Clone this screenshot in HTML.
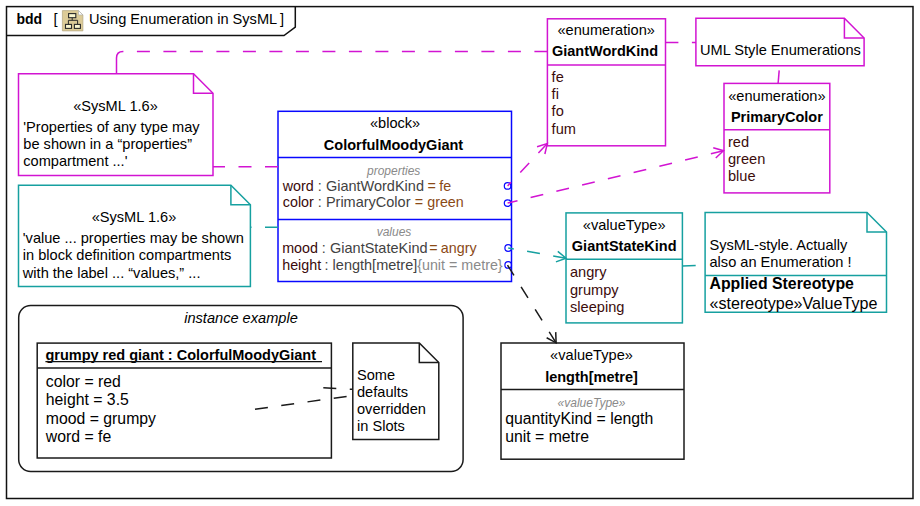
<!DOCTYPE html>
<html><head><meta charset="utf-8"><style>
html,body{margin:0;padding:0;background:#fff;}
svg{display:block;}
text{font-family:"Liberation Sans",sans-serif;}
</style></head><body>
<svg width="920" height="506" viewBox="0 0 920 506">
<rect width="920" height="506" fill="#fff"/>
<rect x="6.5" y="6.6" width="906.5" height="491.9" fill="none" stroke="#111" stroke-width="1.5"/>
<path d="M6.5,35.6 H284 L295.3,27.2 V6.6" fill="none" stroke="#111" stroke-width="1.5"/>
<text x="16.5" y="23.5" font-size="14" font-weight="bold" font-style="normal" fill="#000" text-anchor="start" >bdd</text>
<text x="53.6" y="23.5" font-size="14.6" font-weight="normal" font-style="normal" fill="#000" text-anchor="start" >[</text>
<path d="M62.4,10.6 H78.5 L82.9,14.9 V30.9 H62.4 Z" fill="#dccb98" stroke="#b3a682" stroke-width="0.7"/><path d="M78.5,10.6 L82.9,14.9 H78.5 Z" fill="#fff" stroke="#a8a8a8" stroke-width="0.6"/><rect x="68.6" y="13.6" width="7.2" height="4.1" fill="#fbf7d0" stroke="#2a2a2a" stroke-width="1.1"/><path d="M72.2,17.7 V20.3 M68.4,20.3 H77.6 M68.4,20.3 V24.4 M77.6,20.3 V24.4" fill="none" stroke="#2a2a2a" stroke-width="1"/><rect x="65.5" y="24.4" width="6" height="4" fill="#fbf7d0" stroke="#2a2a2a" stroke-width="1.1"/><rect x="74.4" y="24.4" width="6" height="4" fill="#fbf7d0" stroke="#2a2a2a" stroke-width="1.1"/>
<text x="89.0" y="23.5" font-size="14.6" font-weight="normal" font-style="normal" fill="#000" text-anchor="start" >Using Enumeration in SysML</text>
<text x="280.0" y="23.5" font-size="14.6" font-weight="normal" font-style="normal" fill="#000" text-anchor="start" >]</text>
<path d="M18.5,73.8 H193.5 L213,93.3 V175.5 H18.5 Z" fill="#fff" stroke="#d214d2" stroke-width="1.5"/>
<path d="M193.5,73.8 V93.3 H213" fill="none" stroke="#d214d2" stroke-width="1.5"/>
<text x="115.5" y="110.9" font-size="14.6" font-weight="normal" font-style="normal" fill="#000" text-anchor="middle" >«SysML 1.6»</text>
<text x="23.3" y="131.5" font-size="14.6" font-weight="normal" font-style="normal" fill="#000" text-anchor="start" >'Properties of any type may</text>
<text x="23.3" y="149.1" font-size="14.6" font-weight="normal" font-style="normal" fill="#000" text-anchor="start" >be shown in a “properties”</text>
<text x="23.3" y="165.9" font-size="14.6" font-weight="normal" font-style="normal" fill="#000" text-anchor="start" >compartment ...'</text>
<path d="M18.5,185.2 H230.9 L250.4,204.7 V286.6 H18.5 Z" fill="#fff" stroke="#16a0a0" stroke-width="1.5"/>
<path d="M230.9,185.2 V204.7 H250.4" fill="none" stroke="#16a0a0" stroke-width="1.5"/>
<text x="134" y="221.7" font-size="14.6" font-weight="normal" font-style="normal" fill="#000" text-anchor="middle" >«SysML 1.6»</text>
<text x="22.8" y="243" font-size="14.6" font-weight="normal" font-style="normal" fill="#000" text-anchor="start" >'value ... properties may be shown</text>
<text x="22.8" y="260.4" font-size="14.6" font-weight="normal" font-style="normal" fill="#000" text-anchor="start" >in block definition compartments</text>
<text x="22.8" y="277.7" font-size="14.6" font-weight="normal" font-style="normal" fill="#000" text-anchor="start" >with the label ... “values,” ...</text>
<rect x="278" y="111.3" width="233.5" height="170.2" rx="0" fill="#fff" stroke="#0808ff" stroke-width="1.5"/>
<line x1="278" y1="157.6" x2="511.5" y2="157.6" stroke="#0808ff" stroke-width="1.5"/>
<line x1="278" y1="219.6" x2="511.5" y2="219.6" stroke="#0808ff" stroke-width="1.5"/>
<text x="395.1" y="128" font-size="14.6" font-weight="normal" font-style="normal" fill="#000" text-anchor="middle" >«block»</text>
<text x="393.5" y="149.5" font-size="14.5" font-weight="bold" font-style="normal" fill="#000" text-anchor="middle" >ColorfulMoodyGiant</text>
<text x="393.7" y="174.6" font-size="12" font-weight="normal" font-style="italic" fill="#8a8a8a" text-anchor="middle" >properties</text>
<text x="282.8" y="190.8" font-size="14.3" font-weight="normal" font-style="normal" fill="#3a0a0a" text-anchor="start" >word</text>
<text x="317.7" y="190.8" font-size="14.3" font-weight="normal" font-style="normal" fill="#424242" text-anchor="start" >:</text>
<text x="325.9" y="190.8" font-size="14.5" font-weight="normal" font-style="normal" fill="#424242" text-anchor="start" >GiantWordKind</text>
<text x="427.6" y="190.8" font-size="14.3" font-weight="normal" font-style="normal" fill="#8b4a16" text-anchor="start" >=</text>
<text x="439.3" y="190.8" font-size="14.3" font-weight="normal" font-style="normal" fill="#8b4a16" text-anchor="start" >fe</text>
<text x="282.8" y="207.4" font-size="14.3" font-weight="normal" font-style="normal" fill="#3a0a0a" text-anchor="start" >color</text>
<text x="317.7" y="207.4" font-size="14.3" font-weight="normal" font-style="normal" fill="#424242" text-anchor="start" >:</text>
<text x="325.9" y="207.4" font-size="14.5" font-weight="normal" font-style="normal" fill="#424242" text-anchor="start" >PrimaryColor</text>
<text x="414.8" y="207.4" font-size="14.3" font-weight="normal" font-style="normal" fill="#8b4a16" text-anchor="start" >=</text>
<text x="427.2" y="207.4" font-size="14.3" font-weight="normal" font-style="normal" fill="#8b4a16" text-anchor="start" >green</text>
<text x="394" y="235.8" font-size="12" font-weight="normal" font-style="italic" fill="#8a8a8a" text-anchor="middle" >values</text>
<text x="282.2" y="253" font-size="14.3" font-weight="normal" font-style="normal" fill="#3a0a0a" text-anchor="start" >mood</text>
<text x="321.7" y="253" font-size="14.3" font-weight="normal" font-style="normal" fill="#424242" text-anchor="start" >:</text>
<text x="330" y="253" font-size="14.5" font-weight="normal" font-style="normal" fill="#424242" text-anchor="start" >GiantStateKind</text>
<text x="429.2" y="253" font-size="14.3" font-weight="normal" font-style="normal" fill="#8b4a16" text-anchor="start" >=</text>
<text x="440.8" y="253" font-size="14.3" font-weight="normal" font-style="normal" fill="#8b4a16" text-anchor="start" >angry</text>
<text x="282.2" y="269.9" font-size="14.3" font-weight="normal" font-style="normal" fill="#3a0a0a" text-anchor="start" >height</text>
<text x="324.6" y="269.9" font-size="14.3" font-weight="normal" font-style="normal" fill="#424242" text-anchor="start" >:</text>
<text x="332.6" y="269.9" font-size="14.5" font-weight="normal" font-style="normal" fill="#424242" text-anchor="start" >length[metre]</text>
<text x="417.2" y="269.9" font-size="14.3" font-weight="normal" font-style="normal" fill="#8a8a8a" text-anchor="start" >{unit = metre}</text>
<circle cx="507.6" cy="185.9" r="3.3" fill="none" stroke="#0808ff" stroke-width="1.2"/>
<circle cx="507.6" cy="203.1" r="3.3" fill="none" stroke="#0808ff" stroke-width="1.2"/>
<circle cx="508.2" cy="248" r="3.3" fill="none" stroke="#0808ff" stroke-width="1.2"/>
<circle cx="508.2" cy="264.9" r="3.3" fill="none" stroke="#0808ff" stroke-width="1.2"/>
<rect x="547.4" y="18.8" width="118.10000000000002" height="127.00000000000001" rx="0" fill="#fff" stroke="#d214d2" stroke-width="1.5"/>
<line x1="547.4" y1="65.1" x2="665.5" y2="65.1" stroke="#d214d2" stroke-width="1.5"/>
<text x="606.2" y="35.4" font-size="14.6" font-weight="normal" font-style="normal" fill="#000" text-anchor="middle" >«enumeration»</text>
<text x="605" y="56" font-size="14.5" font-weight="bold" font-style="normal" fill="#000" text-anchor="middle" >GiantWordKind</text>
<text x="551.6" y="81.9" font-size="14.6" font-weight="normal" font-style="normal" fill="#3c0c0c" text-anchor="start" >fe</text>
<text x="551.6" y="99.10000000000001" font-size="14.6" font-weight="normal" font-style="normal" fill="#3c0c0c" text-anchor="start" >fi</text>
<text x="551.6" y="116.30000000000001" font-size="14.6" font-weight="normal" font-style="normal" fill="#3c0c0c" text-anchor="start" >fo</text>
<text x="551.6" y="133.5" font-size="14.6" font-weight="normal" font-style="normal" fill="#3c0c0c" text-anchor="start" >fum</text>
<path d="M695.9,18.3 H844.4 L864.1,38.0 V65.8 H695.9 Z" fill="#fff" stroke="#d214d2" stroke-width="1.5"/>
<path d="M844.4,18.3 V38.0 H864.1" fill="none" stroke="#d214d2" stroke-width="1.5"/>
<text x="700" y="55.1" font-size="14.6" font-weight="normal" font-style="normal" fill="#000" text-anchor="start" >UML Style Enumerations</text>
<rect x="724" y="83.4" width="105.79999999999995" height="109.5" rx="0" fill="#fff" stroke="#d214d2" stroke-width="1.5"/>
<line x1="724" y1="129.8" x2="829.8" y2="129.8" stroke="#d214d2" stroke-width="1.5"/>
<text x="776.9" y="101" font-size="14.6" font-weight="normal" font-style="normal" fill="#000" text-anchor="middle" >«enumeration»</text>
<text x="776.9" y="122" font-size="14.5" font-weight="bold" font-style="normal" fill="#000" text-anchor="middle" >PrimaryColor</text>
<text x="728" y="147.0" font-size="14.6" font-weight="normal" font-style="normal" fill="#3c0c0c" text-anchor="start" >red</text>
<text x="728" y="164.2" font-size="14.6" font-weight="normal" font-style="normal" fill="#3c0c0c" text-anchor="start" >green</text>
<text x="728" y="181.4" font-size="14.6" font-weight="normal" font-style="normal" fill="#3c0c0c" text-anchor="start" >blue</text>
<rect x="566" y="212.9" width="116.39999999999998" height="109.99999999999997" rx="0" fill="#fff" stroke="#16a0a0" stroke-width="1.5"/>
<line x1="566" y1="259.2" x2="682.4" y2="259.2" stroke="#16a0a0" stroke-width="1.5"/>
<text x="624.2" y="230" font-size="14.6" font-weight="normal" font-style="normal" fill="#000" text-anchor="middle" >«valueType»</text>
<text x="624.2" y="251" font-size="14.5" font-weight="bold" font-style="normal" fill="#000" text-anchor="middle" >GiantStateKind</text>
<text x="570" y="277.4" font-size="14.6" font-weight="normal" font-style="normal" fill="#3c0c0c" text-anchor="start" >angry</text>
<text x="570" y="294.5" font-size="14.6" font-weight="normal" font-style="normal" fill="#3c0c0c" text-anchor="start" >grumpy</text>
<text x="570" y="311.59999999999997" font-size="14.6" font-weight="normal" font-style="normal" fill="#3c0c0c" text-anchor="start" >sleeping</text>
<path d="M705.1,212.5 H867.0 L886.5,232.0 V312.2 H705.1 Z" fill="#fff" stroke="#16a0a0" stroke-width="1.5"/>
<path d="M867.0,212.5 V232.0 H886.5" fill="none" stroke="#16a0a0" stroke-width="1.5"/>
<line x1="705.1" y1="275.6" x2="886.5" y2="275.6" stroke="#16a0a0" stroke-width="1.5"/>
<text x="709.5" y="249.5" font-size="14.6" font-weight="normal" font-style="normal" fill="#000" text-anchor="start" >SysML-style. Actually</text>
<text x="709.5" y="266.6" font-size="14.6" font-weight="normal" font-style="normal" fill="#000" text-anchor="start" >also an Enumeration !</text>
<text x="709.5" y="289.2" font-size="15.85" font-weight="bold" font-style="normal" fill="#000" text-anchor="start" >Applied Stereotype</text>
<text x="709.5" y="308.6" font-size="16.1" font-weight="normal" font-style="normal" fill="#000" text-anchor="start" >«stereotype»ValueType</text>
<rect x="501" y="343" width="183" height="116.19999999999999" rx="0" fill="#fff" stroke="#1a1a1a" stroke-width="1.5"/>
<line x1="501" y1="389.4" x2="684" y2="389.4" stroke="#1a1a1a" stroke-width="1.5"/>
<text x="591.5" y="360.3" font-size="14.6" font-weight="normal" font-style="normal" fill="#000" text-anchor="middle" >«valueType»</text>
<text x="591.5" y="381.5" font-size="14.5" font-weight="bold" font-style="normal" fill="#000" text-anchor="middle" >length[metre]</text>
<text x="591.5" y="406.8" font-size="12" font-weight="normal" font-style="italic" fill="#8a8a8a" text-anchor="middle" >«valueType»</text>
<text x="505.2" y="423.7" font-size="15.8" font-weight="normal" font-style="normal" fill="#000" text-anchor="start" >quantityKind = length</text>
<text x="505.2" y="441.5" font-size="15.8" font-weight="normal" font-style="normal" fill="#000" text-anchor="start" >unit = metre</text>
<rect x="18.7" y="305.5" width="444.40000000000003" height="166.0" rx="12" fill="#fff" stroke="#1a1a1a" stroke-width="1.5"/>
<text x="241" y="323" font-size="14.6" font-weight="normal" font-style="italic" fill="#000" text-anchor="middle" >instance example</text>
<rect x="37.2" y="343.1" width="294.2" height="114.89999999999998" rx="0" fill="#fff" stroke="#1a1a1a" stroke-width="1.5"/>
<line x1="37" y1="368.1" x2="331.4" y2="368.1" stroke="#1a1a1a" stroke-width="1.5"/>
<text x="45.4" y="359.8" font-size="14.5" font-weight="bold" font-style="normal" fill="#000" text-anchor="start" >grumpy red giant : ColorfulMoodyGiant</text>
<line x1="45.4" y1="361.6" x2="322" y2="361.6" stroke="#111" stroke-width="1.1"/>
<text x="45.8" y="386.6" font-size="15.8" font-weight="normal" font-style="normal" fill="#000" text-anchor="start" >color = red</text>
<text x="45.8" y="405.1" font-size="15.8" font-weight="normal" font-style="normal" fill="#000" text-anchor="start" >height = 3.5</text>
<text x="45.8" y="423.6" font-size="15.8" font-weight="normal" font-style="normal" fill="#000" text-anchor="start" >mood = grumpy</text>
<text x="45.8" y="442.1" font-size="15.8" font-weight="normal" font-style="normal" fill="#000" text-anchor="start" >word = fe</text>
<path d="M352.8,343 H419.3 L438.8,362.5 V439.4 H352.8 Z" fill="#fff" stroke="#1a1a1a" stroke-width="1.5"/>
<path d="M419.3,343 V362.5 H438.8" fill="none" stroke="#1a1a1a" stroke-width="1.5"/>
<text x="357" y="379.6" font-size="14.6" font-weight="normal" font-style="normal" fill="#000" text-anchor="start" >Some</text>
<text x="357" y="396.70000000000005" font-size="14.6" font-weight="normal" font-style="normal" fill="#000" text-anchor="start" >defaults</text>
<text x="357" y="413.8" font-size="14.6" font-weight="normal" font-style="normal" fill="#000" text-anchor="start" >overridden</text>
<text x="357" y="430.90000000000003" font-size="14.6" font-weight="normal" font-style="normal" fill="#000" text-anchor="start" >in Slots</text>
<line x1="255" y1="409.2" x2="352.4" y2="395.6" stroke="#1a1a1a" stroke-width="1.5" stroke-dasharray="13 13.5" stroke-dashoffset="0"/>
<line x1="323.3" y1="387.8" x2="352.4" y2="389.3" stroke="#1a1a1a" stroke-width="1.5" stroke-dasharray="13 13.5" stroke-dashoffset="0"/>
<path d="M116.5,73.9 V58 Q116.5,51.5 123,51.5" fill="none" stroke="#d214d2" stroke-width="1.5"/>
<line x1="547.4" y1="51.5" x2="123" y2="51.5" stroke="#d214d2" stroke-width="1.5" stroke-dasharray="13 13.5" stroke-dashoffset="0"/>
<line x1="278" y1="166.8" x2="213" y2="166.8" stroke="#d214d2" stroke-width="1.5" stroke-dasharray="13 13.5" stroke-dashoffset="0"/>
<line x1="278" y1="227.3" x2="250.2" y2="227.3" stroke="#16a0a0" stroke-width="1.5" stroke-dasharray="13 13.5" stroke-dashoffset="0"/>
<line x1="665.4" y1="42.4" x2="696" y2="42.4" stroke="#d214d2" stroke-width="1.5" stroke-dasharray="13 13.5" stroke-dashoffset="0"/>
<line x1="779.2" y1="70.4" x2="778.1" y2="83.4" stroke="#d214d2" stroke-width="1.5"/>
<line x1="547.3" y1="143.6" x2="507.6" y2="185.9" stroke="#d214d2" stroke-width="1.5" stroke-dasharray="13 13.5" stroke-dashoffset="0"/>
<path d="M537.06,146.70 L547.3,143.6 L544.86,154.02" fill="none" stroke="#d214d2" stroke-width="1.5"/>
<line x1="723.5" y1="150.7" x2="507.6" y2="203.1" stroke="#d214d2" stroke-width="1.5" stroke-dasharray="13 13.5" stroke-dashoffset="0"/>
<path d="M713.23,147.69 L723.5,150.7 L715.76,158.08" fill="none" stroke="#d214d2" stroke-width="1.5"/>
<line x1="566" y1="258.2" x2="508.2" y2="248" stroke="#16a0a0" stroke-width="1.5" stroke-dasharray="13 13.5" stroke-dashoffset="0"/>
<path d="M557.80,251.32 L566,258.2 L555.94,261.86" fill="none" stroke="#16a0a0" stroke-width="1.5"/>
<line x1="556.1" y1="342.8" x2="507.5" y2="265.1" stroke="#1a1a1a" stroke-width="1.5" stroke-dasharray="13 13.5" stroke-dashoffset="0"/>
<path d="M555.72,332.11 L556.1,342.8 L546.65,337.78" fill="none" stroke="#1a1a1a" stroke-width="1.5"/>
<line x1="682.4" y1="266" x2="695.7" y2="265.4" stroke="#16a0a0" stroke-width="1.5"/>
</svg>
</body></html>
